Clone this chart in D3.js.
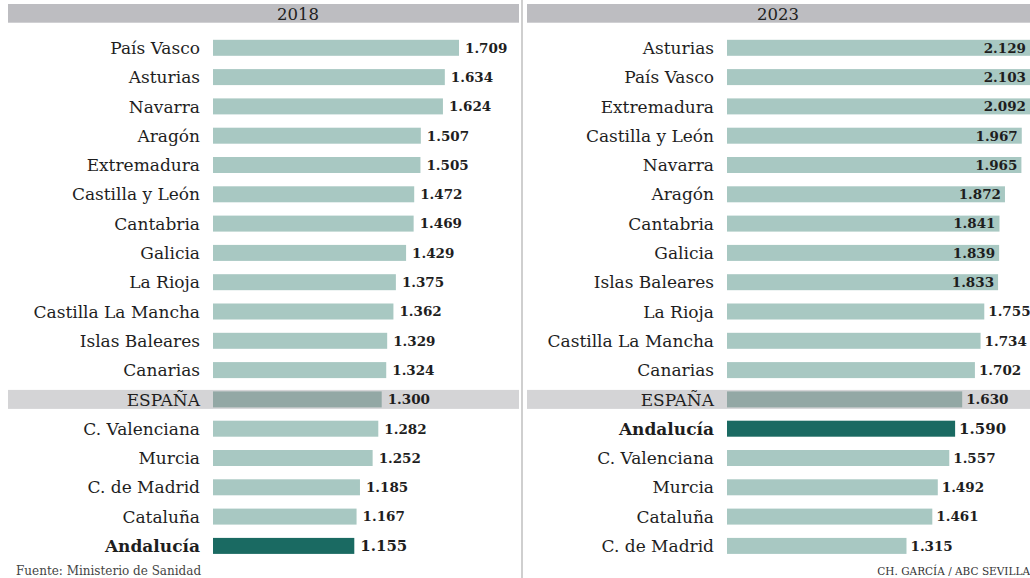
<!DOCTYPE html>
<html>
<head>
<meta charset="utf-8">
<script src="https://cdn.jsdelivr.net/npm/d3@7"></script>
<style>
  html, body { margin: 0; padding: 0; background: #fff; }
  svg { display: block; font-family: "DejaVu Serif", serif; }
</style>
</head>
<body>
<div id="chart"></div>
<script>
// ============================
// Data
// ============================
const names2018 = ["País Vasco", "Asturias", "Navarra", "Aragón", "Extremadura", "Castilla y León",
  "Cantabria", "Galicia", "La Rioja", "Castilla La Mancha", "Islas Baleares", "Canarias",
  "ESPAÑA", "C. Valenciana", "Murcia", "C. de Madrid", "Cataluña", "Andalucía"];
const values2018 = [1709, 1634, 1624, 1507, 1505, 1472, 1469, 1429, 1375, 1362, 1329, 1324,
  1300, 1282, 1252, 1185, 1167, 1155];

const names2023 = ["Asturias", "País Vasco", "Extremadura", "Castilla y León", "Navarra", "Aragón",
  "Cantabria", "Galicia", "Islas Baleares", "La Rioja", "Castilla La Mancha", "Canarias",
  "ESPAÑA", "Andalucía", "C. Valenciana", "Murcia", "Cataluña", "C. de Madrid"];
const values2023 = [2129, 2103, 2092, 1967, 1965, 1872, 1841, 1839, 1833, 1755, 1734, 1702,
  1630, 1590, 1557, 1492, 1461, 1315];

const years = ["2018", "2023"];
const source = "Fuente: Ministerio de Sanidad";
const credit = "CH. GARCÍA / ABC SEVILLA";

// ============================
// Setup
// ============================
const width = 1030, height = 578;
const svg = d3.select("#chart").append("svg")
  .attr("width", width).attr("height", height)
  .attr("viewBox", [0, 0, width, height]);

const fmt = d3.formatLocale({decimal: ",", thousands: ".", grouping: [3], currency: ["", "€"]}).format(",d");

const colBar = "#a8c8c2", colSpain = "#93a8a5", colAnd = "#1a6a62";

// panel layouts
const panels = [
  {year: years[0], names: names2018, values: values2018,
   bandX0: 8, bandX1: 519, labelX: 200, barX: 213, titleX: 298, gap: 6,
   x: d3.scaleLinear().domain([0, 2000]).range([136, 514])},
  {year: years[1], names: names2023, values: values2023,
   bandX0: 527, bandX1: 1030, labelX: 714, barX: 727, titleX: 778, gap: 4,
   x: d3.scaleLinear().domain([0, 2000]).range([674, 1027.6])}
];

// divider
svg.append("rect")
  .attr("x", 521).attr("y", 0).attr("width", 2).attr("height", height)
  .attr("fill", "#cfcfcf");

panels.forEach(p => {
  const g = svg.append("g");
  const data = p.names.map((n, i) => ({name: n, value: p.values[i]}));

  const y = d3.scaleBand()
    .domain(p.names)
    .range([33.15, 33.15 + 18 * 29.3])
    .paddingInner(0.454)
    .paddingOuter(0.227);

  // header band
  g.append("rect")
    .attr("x", p.bandX0).attr("y", 4)
    .attr("width", p.bandX1 - p.bandX0).attr("height", 18.7)
    .attr("fill", "#bdbdc1");
  g.append("text")
    .attr("x", p.titleX).attr("y", 19.5)
    .attr("text-anchor", "middle")
    .attr("font-size", 16.5)
    .attr("fill", "#222")
    .text(p.year);

  // Spain highlight band
  const yc = n => y(n) + y.bandwidth() / 2;
  g.append("rect")
    .attr("x", p.bandX0).attr("y", yc("ESPAÑA") - 9.5)
    .attr("width", p.bandX1 - p.bandX0).attr("height", 19)
    .attr("fill", "#d4d4d6");

  // bars
  const barEnd = d => Math.min(p.x(d.value), width);
  g.selectAll(".bar")
    .data(data)
    .join("rect")
    .attr("class", "bar")
    .attr("x", p.barX)
    .attr("y", d => y(d.name))
    .attr("width", d => barEnd(d) - p.barX)
    .attr("height", y.bandwidth())
    .attr("fill", d => d.name === "ESPAÑA" ? colSpain : d.name === "Andalucía" ? colAnd : colBar);

  // category labels
  g.selectAll(".lab")
    .data(data)
    .join("text")
    .attr("class", "lab")
    .attr("x", p.labelX)
    .attr("y", d => yc(d.name))
    .attr("dy", "0.36em")
    .attr("text-anchor", "end")
    .attr("font-size", 17)
    .attr("font-weight", d => d.name === "Andalucía" ? "bold" : "normal")
    .attr("fill", "#1e1e1e")
    .text(d => d.name);

  // value labels: outside unless they would run off the page
  const labelW = 39;
  g.selectAll(".val")
    .data(data)
    .join("text")
    .attr("class", "val")
    .attr("y", d => yc(d.name))
    .attr("dy", "0.36em")
    .attr("font-size", d => d.name === "Andalucía" ? 15 : 13.5)
    .attr("font-weight", "bold")
    .attr("fill", "#1e1e1e")
    .each(function(d) {
      const e = barEnd(d);
      const t = d3.select(this);
      if (e + p.gap + labelW > width) {
        t.attr("x", Math.min(e - 4, width - 1)).attr("text-anchor", "end");
      } else {
        t.attr("x", e + p.gap).attr("text-anchor", "start");
      }
    })
    .text(d => fmt(d.value));
});

// footer
svg.append("text")
  .attr("x", 16).attr("y", 575)
  .attr("font-size", 12)
  .attr("fill", "#444")
  .text(source);

svg.append("text")
  .attr("x", 1030).attr("y", 575)
  .attr("text-anchor", "end")
  .attr("font-size", 10.5)
  .attr("fill", "#333")
  .text(credit);
</script>
</body>
</html>
